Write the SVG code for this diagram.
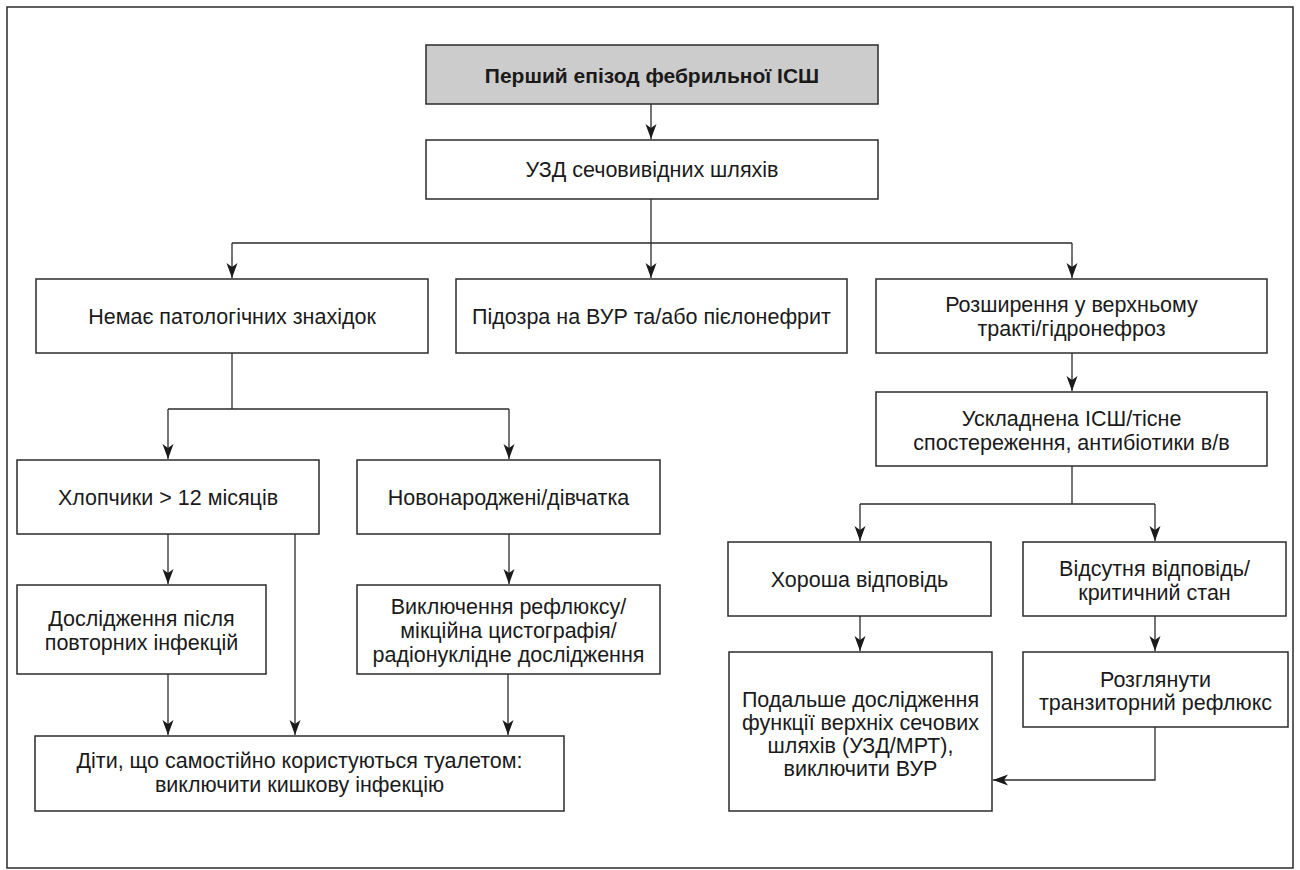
<svg xmlns="http://www.w3.org/2000/svg" width="1300" height="870" viewBox="0 0 1300 870">
<style>
.box{fill:#ffffff;stroke:#2b2b2b;stroke-width:1.5}
.title{fill:#cccccc;stroke:#2b2b2b;stroke-width:1.5}
.t{font-family:"Liberation Sans",Arial,sans-serif;font-size:21.5px;fill:#1a1a1a;text-anchor:middle}
.b{font-weight:bold;font-size:21px}
.c{fill:none;stroke:#2b2b2b;stroke-width:1.3}
</style>
<defs>
<marker id="ah" viewBox="0 0 15 12" refX="15" refY="6" markerWidth="15" markerHeight="12" markerUnits="userSpaceOnUse" orient="auto">
<path d="M0,0.5 L15,6 L0,11.5 L4,6 Z" fill="#1a1a1a"/>
</marker>
</defs>
<rect x="7" y="7" width="1286" height="861" fill="#ffffff" stroke="#2b2b2b" stroke-width="1.5"/>
<g id="connectors">
<path class="c" d="M651,104 V139" marker-end="url(#ah)"/>
<path class="c" d="M651,199 V243"/>
<path class="c" d="M232,243 H1072"/>
<path class="c" d="M232,243 V278" marker-end="url(#ah)"/>
<path class="c" d="M651,243 V278" marker-end="url(#ah)"/>
<path class="c" d="M1072,243 V278" marker-end="url(#ah)"/>
<path class="c" d="M232,353 V409"/>
<path class="c" d="M168,409 H509"/>
<path class="c" d="M168,409 V459" marker-end="url(#ah)"/>
<path class="c" d="M509,409 V459" marker-end="url(#ah)"/>
<path class="c" d="M168,534 V584" marker-end="url(#ah)"/>
<path class="c" d="M509,534 V584" marker-end="url(#ah)"/>
<path class="c" d="M295,534 V735" marker-end="url(#ah)"/>
<path class="c" d="M168,674 V735" marker-end="url(#ah)"/>
<path class="c" d="M508,674 V735" marker-end="url(#ah)"/>
<path class="c" d="M1072,353 V391" marker-end="url(#ah)"/>
<path class="c" d="M1072,466 V504"/>
<path class="c" d="M860,504 H1155"/>
<path class="c" d="M860,504 V541" marker-end="url(#ah)"/>
<path class="c" d="M1155,504 V541" marker-end="url(#ah)"/>
<path class="c" d="M860,616 V651" marker-end="url(#ah)"/>
<path class="c" d="M1155,616 V651" marker-end="url(#ah)"/>
<path class="c" d="M1155,727 V780 H993" marker-end="url(#ah)"/>
</g>
<g id="n1"><rect class="title" x="426" y="45" width="452" height="59"/><text class="t b" x="652" y="83">Перший епізод фебрильної ІСШ</text></g>
<g id="n2"><rect class="box" x="426" y="140" width="452" height="59"/><text class="t" x="652" y="177">УЗД сечовивідних шляхів</text></g>
<g id="n3"><rect class="box" x="36" y="279" width="392" height="74"/><text class="t" x="232" y="324">Немає патологічних знахідок</text></g>
<g id="n4"><rect class="box" x="456" y="279" width="391" height="74"/><text class="t" x="651.5" y="324">Підозра на ВУР та/або пієлонефрит</text></g>
<g id="n5"><rect class="box" x="876" y="279" width="391" height="74"/><text class="t" x="1071.5" y="312">Розширення у верхньому</text><text class="t" x="1071.5" y="336">тракті/гідронефроз</text></g>
<g id="n6"><rect class="box" x="17" y="460" width="302" height="74"/><text class="t" x="168" y="505">Хлопчики &gt; 12 місяців</text></g>
<g id="n7"><rect class="box" x="357" y="460" width="303" height="74"/><text class="t" x="508.5" y="505">Новонароджені/дівчатка</text></g>
<g id="n8"><rect class="box" x="17" y="585" width="249" height="89"/><text class="t" x="141.5" y="626">Дослідження після</text><text class="t" x="141.5" y="650">повторних інфекцій</text></g>
<g id="n9"><rect class="box" x="357" y="585" width="303" height="89"/><text class="t" x="508.5" y="614">Виключення рефлюксу/</text><text class="t" x="508.5" y="638">мікційна цистографія/</text><text class="t" x="508.5" y="662">радіонуклідне дослідження</text></g>
<g id="n10"><rect class="box" x="35" y="736" width="529" height="75"/><text class="t" x="299.5" y="768">Діти, що самостійно користуються туалетом:</text><text class="t" x="299.5" y="792">виключити кишкову інфекцію</text></g>
<g id="n11"><rect class="box" x="876" y="392" width="391" height="74"/><text class="t" x="1071.5" y="426">Ускладнена ІСШ/тісне</text><text class="t" x="1071.5" y="450">спостереження, антибіотики в/в</text></g>
<g id="n12"><rect class="box" x="728" y="542" width="263" height="74"/><text class="t" x="859.5" y="587">Хороша відповідь</text></g>
<g id="n13"><rect class="box" x="1023" y="542" width="263" height="74"/><text class="t" x="1154.5" y="576">Відсутня відповідь/</text><text class="t" x="1154.5" y="600">критичний стан</text></g>
<g id="n14"><rect class="box" x="729" y="652" width="263" height="159"/><text class="t" x="860.5" y="707">Подальше дослідження</text><text class="t" x="860.5" y="730">функції верхніх сечових</text><text class="t" x="860.5" y="753">шляхів (УЗД/МРТ),</text><text class="t" x="860.5" y="776">виключити ВУР</text></g>
<g id="n15"><rect class="box" x="1023" y="652" width="265" height="75"/><text class="t" x="1155.5" y="687">Розглянути</text><text class="t" x="1155.5" y="710">транзиторний рефлюкс</text></g>
</svg>
